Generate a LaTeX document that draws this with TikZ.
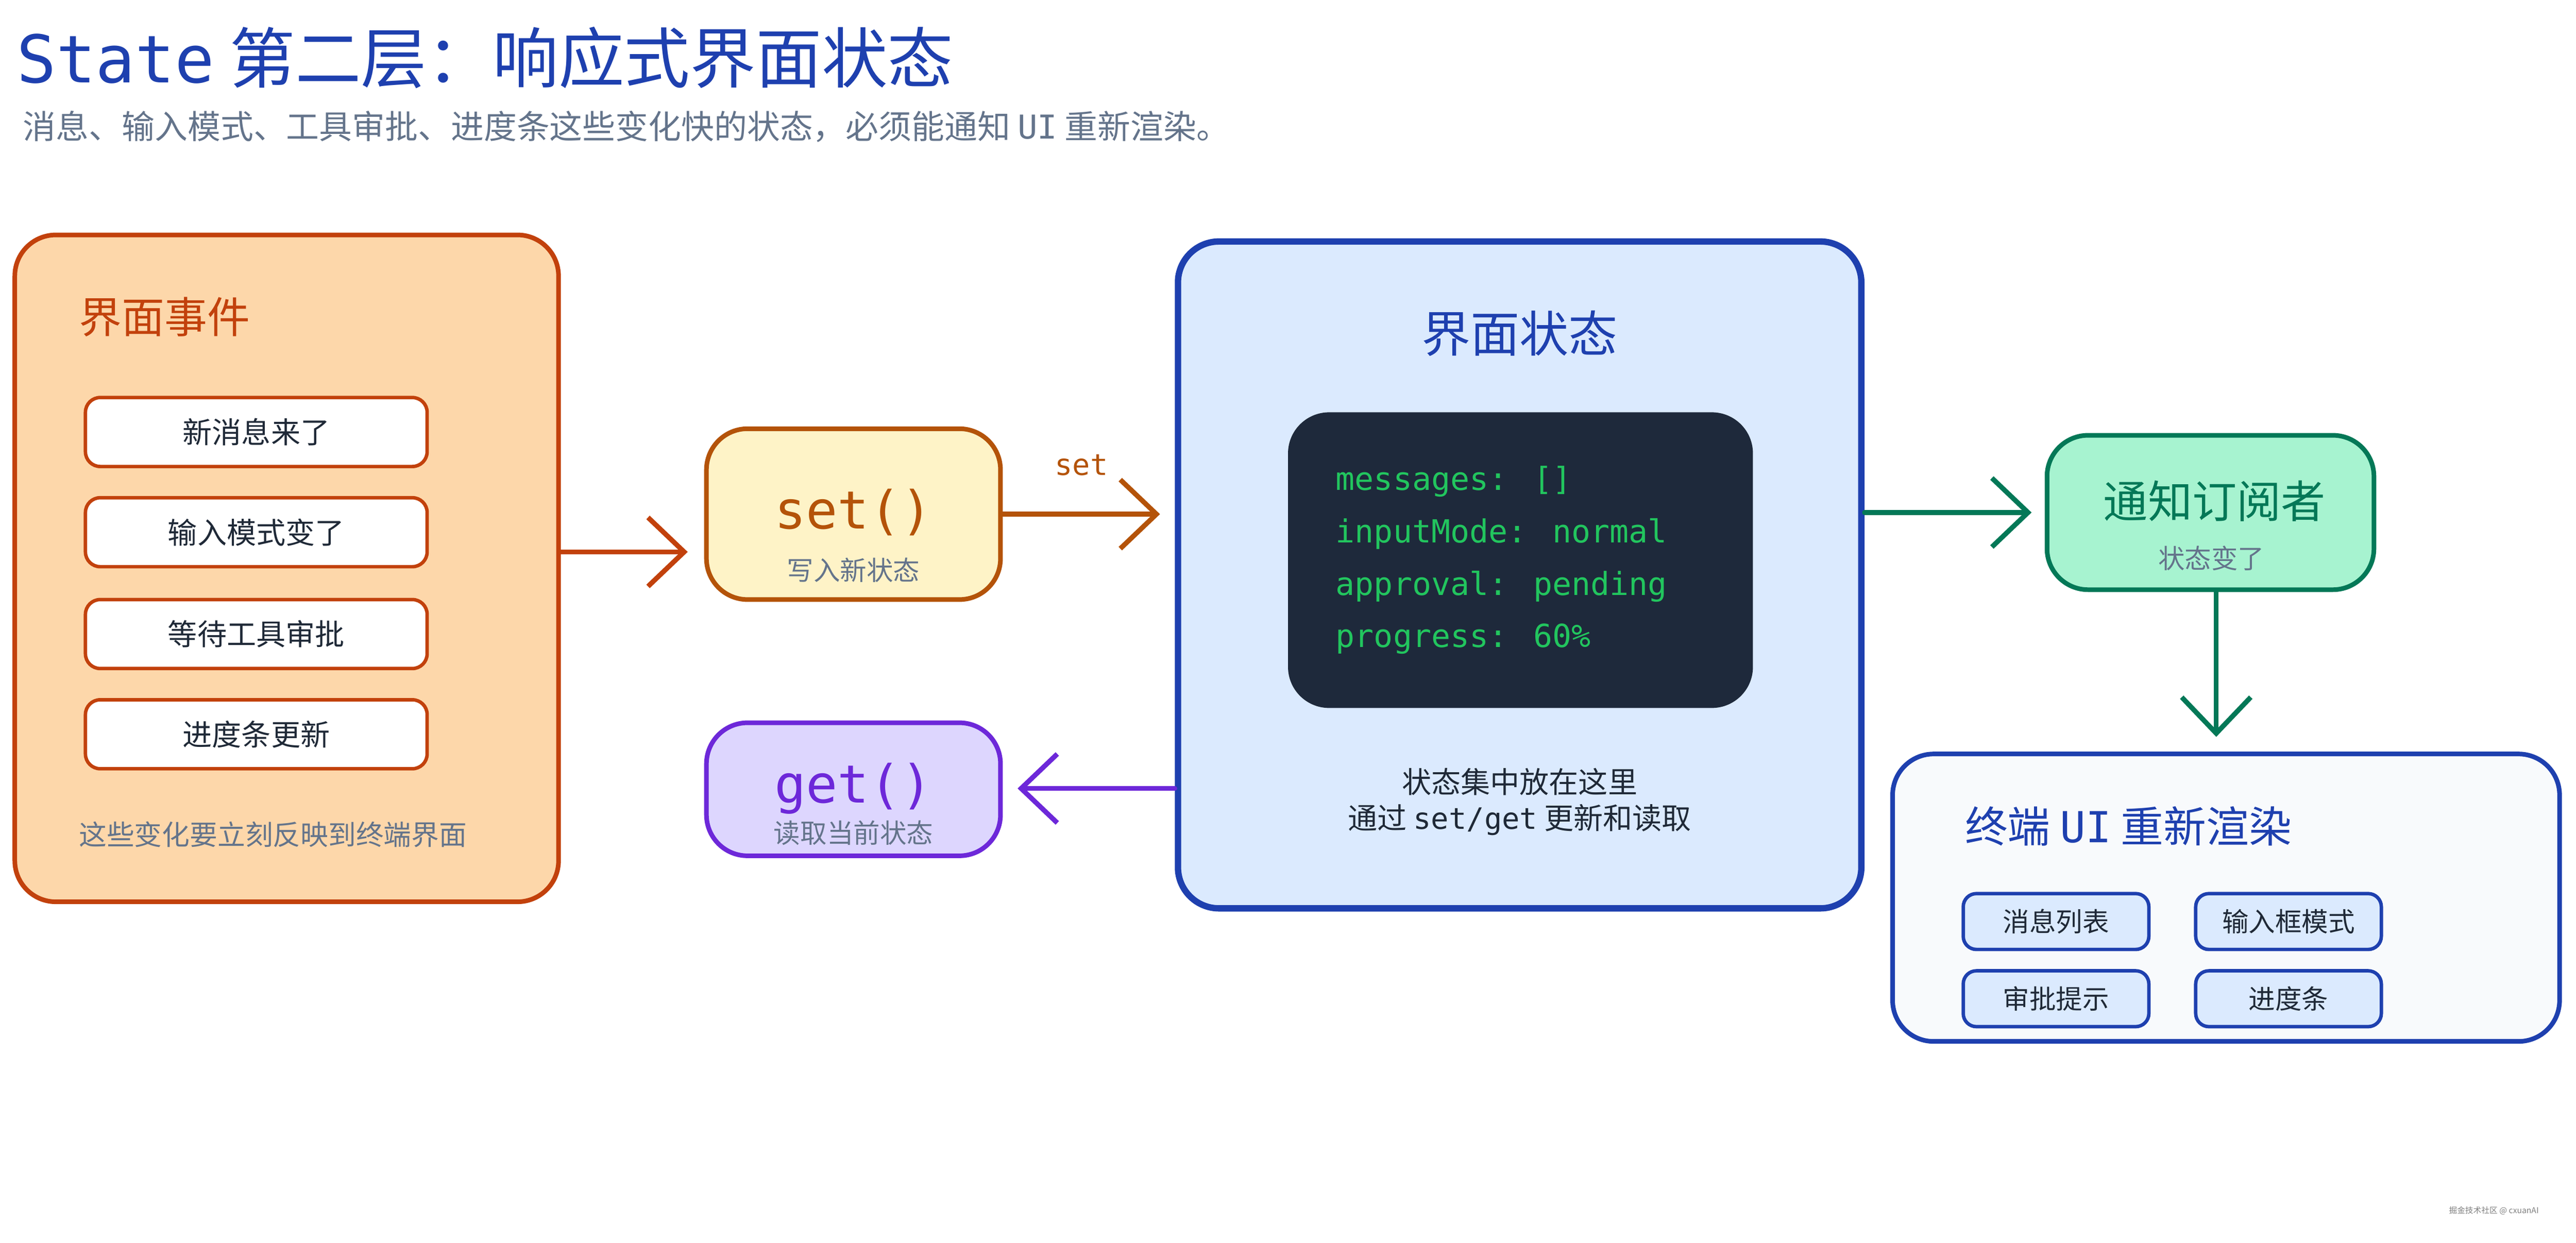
\documentclass[tikz,border=0pt]{standalone}
\usepackage{fontspec}
\setmainfont{Noto Sans CJK SC}
\newfontfamily\mono{DejaVu Sans Mono}
\usetikzlibrary{arrows.meta}
\definecolor{tblue}{HTML}{1E40AF}
\definecolor{tgray}{HTML}{64748B}
\definecolor{tdark}{HTML}{1F2937}
\definecolor{torange}{HTML}{C2410C}
\definecolor{tbrown}{HTML}{B45309}
\definecolor{tpurple}{HTML}{6D28D9}
\definecolor{tgreen}{HTML}{047857}
\definecolor{tcode}{HTML}{22C55E}
\newcommand{\fsz}[1]{\fontsize{#1pt}{#1pt}\selectfont}
\tikzset{
 box/.style={draw, rounded corners=2.5cm, line width=8pt},
 item/.style={draw=torange, fill=white, rounded corners=0.9cm, line width=6pt, minimum width=20.8cm, minimum height=4.2cm, font=\fsz{51}, text=tdark},
 small/.style={draw=tblue, fill=blue!8!white, fill={rgb,255:red,219;green,234;blue,254}, rounded corners=0.8cm, line width=6pt, minimum width=11.3cm, minimum height=3.4cm, font=\fsz{46}, text=tdark},
 txt/.style={inner sep=0},
 arr/.style={line width=8.5pt, line cap=round, -{Straight Barb[length=2.2cm,width=4.2cm,line width=8.5pt]}},
}
\begin{document}
\begin{tikzpicture}[x=0.1cm,y=-0.1cm]
\useasboundingbox[fill=white] (0,0) rectangle (1568,756.6);
% title
\node[txt,anchor=west,text=tblue,font=\fsz{114}] (title) at (10,35) {{\mono State} 第二层：响应式界面状态};
\node[txt,anchor=west,text=tgray,font=\fsz{57}] (sub) at (14,77) {消息、输入模式、工具审批、进度条这些变化快的状态，必须能通知 {\mono UI} 重新渲染。};
% left
\node[box,draw=torange,fill={rgb,255:red,253;green,215;blue,170},minimum width=33.1cm,minimum height=40.6cm] (L) at (174.5,346) {};
\node[txt,anchor=west,text=torange,font=\fsz{74}] (Lt) at (48,193) {界面事件};
\node[item] (i1) at (156,263) {新消息来了};
\node[item] (i2) at (156,324) {输入模式变了};
\node[item] (i3) at (156,386) {等待工具审批};
\node[item] (i4) at (156,447) {进度条更新};
\node[txt,anchor=west,text=tgray,font=\fsz{48}] (Ln) at (48,508) {这些变化要立刻反映到终端界面};
% set / get
\node[box,draw=tbrown,fill={rgb,255:red,254;green,243;blue,199},minimum width=17.9cm,minimum height=10.4cm] (setb) at (519.5,313) {};
\node[txt,text=tbrown,font=\mono\fsz{91}] (sett) at (519.5,312) {set()};
\node[txt,text=tgray,font=\fsz{46}] (sets) at (519.5,347) {写入新状态};
\node[box,draw=tpurple,fill={rgb,255:red,221;green,214;blue,254},minimum width=17.9cm,minimum height=8.1cm] (getb) at (519.5,480.5) {};
\node[txt,text=tpurple,font=\mono\fsz{91}] (gett) at (519.5,480) {get()};
\node[txt,text=tgray,font=\fsz{46}] (gets) at (519.5,507) {读取当前状态};
% central
\node[box,draw=tblue,line width=11pt,fill={rgb,255:red,219;green,234;blue,254},minimum width=41.6cm,minimum height=40.6cm] (C) at (925,350) {};
\node[txt,text=tblue,font=\fsz{85}] (Ct) at (925,203) {界面状态};
\node[draw=none,fill={rgb,255:red,30;green,41;blue,59},rounded corners=2.5cm,minimum width=28.3cm,minimum height=18cm] (code) at (925.5,341) {};
\foreach \t/\y [count=\i] in {{messages: []}/293,{inputMode: normal}/325,{approval: pending}/357,{progress: 60\%}/389}
 \node[txt,anchor=west,text=tcode,font=\mono\fsz{55}] (c\i) at (813,\y) {\t};
\node[txt,text=tdark,font=\fsz{51}] (Cn1) at (925,476) {状态集中放在这里};
\node[txt,text=tdark,font=\fsz{51}] (Cn2) at (925,499) {通过 {\mono set/get} 更新和读取};
% notify
\node[box,draw=tgreen,fill={rgb,255:red,167;green,243;blue,208},minimum width=19.9cm,minimum height=9.4cm] (N) at (1345.5,312) {};
\node[txt,text=tgreen,font=\fsz{77}] (Nt) at (1348,305) {通知订阅者};
\node[txt,text=tgray,font=\fsz{46}] (Ns) at (1346,340) {状态变了};
% UI
\node[box,draw=tblue,fill={rgb,255:red,248;green,250;blue,252},minimum width=40.6cm,minimum height=17.5cm] (U) at (1355,546.5) {};
\node[txt,anchor=west,text=tblue,font=\fsz{74}] (Ut) at (1196,503) {终端 {\mono UI} 重新渲染};
\node[small] (s1) at (1251.5,561) {消息列表};
\node[small] (s2) at (1393,561) {输入框模式};
\node[small] (s3) at (1251.5,608) {审批提示};
\node[small] (s4) at (1393,608) {进度条};
% arrows
\draw[arr,draw=torange] ([yshift=1cm]L.east) -- ([yshift=1cm,xshift=-1cm]L.east -| setb.west);
\draw[arr,draw=tbrown] (setb.east) -- ([xshift=-0.9cm]setb.east -| C.west) node[midway,above=2.2cm,txt,text=tbrown,font=\mono\fsz{51}] (setl) {set};
\draw[arr,draw=tpurple] ([yshift=-13cm]C.west) -- ([yshift=-13cm,xshift=0.9cm]C.west -| getb.east);
\draw[arr,draw=tgreen] ([yshift=3.8cm]C.east) -- ([yshift=3.8cm,xshift=-0.8cm]C.east -| N.west);
\draw[arr,draw=tgreen] ([xshift=0.35cm]N.south) -- ([xshift=0.35cm,yshift=0.9cm]N.south |- U.north);
\node[txt,text=gray,font=\fsz{14}] (wm) at (1518,737) {掘金技术社区 @ cxuanAI};
\end{tikzpicture}
\end{document}
